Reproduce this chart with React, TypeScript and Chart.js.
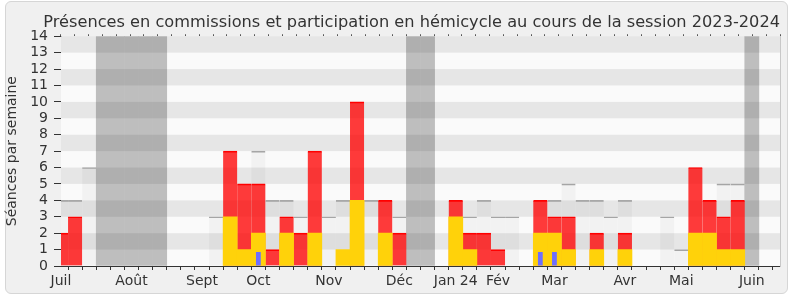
import React, { useEffect, useRef } from 'react';
import { Chart, registerables } from 'chart.js';

Chart.register(...registerables);

// ---- data (weekly, session 2023-2024) ----
const WEEK_COUNT = 52;
const monthWeeks = [0, 5, 10, 14, 19, 24, 28, 31, 35, 40, 44, 49];
const monthNames = ['Juil', 'Août', 'Sept', 'Oct', 'Nov', 'Déc', 'Jan 24', 'Fév', 'Mar', 'Avr', 'Mai', 'Juin'];
const vacationWeeks = [3, 4, 5, 6, 7, 25, 26, 49];

// total presences (hémicycle, red)
const hemicycle = [
  2, 3, 0, 0, 0, 0, 0, 0, 0, 0, 0, 0,
  7, 5, 5, 1, 3, 2, 7, 0, 0, 10, 0, 4,
  2, 0, 0, 0, 4, 2, 2, 1, 0, 0, 4, 3,
  3, 0, 2, 0, 2, 0, 0, 0, 0, 6, 4, 3,
  4, 0, 0, 0,
];
// commission presences (yellow)
const commission = [
  0, 0, 0, 0, 0, 0, 0, 0, 0, 0, 0, 0,
  3, 1, 2, 0, 2, 0, 2, 0, 1, 4, 0, 2,
  0, 0, 0, 0, 3, 1, 0, 0, 0, 0, 2, 2,
  1, 0, 1, 0, 1, 0, 0, 0, 0, 2, 2, 1,
  1, 0, 0, 0,
];
// interventions (blue)
const interventions = [
  0, 0, 0, 0, 0, 0, 0, 0, 0, 0, 0, 0,
  0, 0, 0.85, 0, 0, 0, 0, 0, 0, 0, 0, 0,
  0, 0, 0, 0, 0, 0, 0, 0, 0, 0, 0.85, 0.85,
  0, 0, 0, 0, 0, 0, 0, 0, 0, 0, 0, 0,
  0, 0, 0, 0,
];
// median of deputies (grey)
const median = [
  4, 4, 6, 0, 0, 0, 0, 0, 0, 0, 0, 3,
  0, 0, 7, 4, 4, 3, 0, 3, 4, 0, 4, 0,
  3, 0, 0, 0, 0, 3, 4, 3, 3, 0, 0, 4,
  5, 4, 4, 3, 4, 0, 0, 3, 1, 0, 0, 5,
  5, 0, 0, 0,
];
const Y_MAX = 14;
const TITLE = 'Présences en commissions et participation en hémicycle au cours de la session 2023-2024';
const Y_TITLE = 'Séances par semaine';

const TEXT = '#333333';
const AXIS = '#333333';
const PLOT_BG = '#fafafa';
const STRIPE = 'rgba(0,0,0,0.08)';
const MEDIAN_INDEX = 1;

export default function App() {
  const ref = useRef<HTMLCanvasElement>(null);

  useEffect(() => {
    const canvas = ref.current;
    if (!canvas) return;
    Chart.defaults.font.family = "'DejaVu Sans'";
    const weeks = Array.from({ length: WEEK_COUNT }, (_, i) => i);
    const pts = (arr: number[]) => weeks.map((i) => ({ x: i, y: arr[i] ? arr[i] : null }));
    const vac = weeks.map((i) => ({ x: i, y: vacationWeeks.includes(i) ? Y_MAX : null }));

    const bands = {
      id: 'bands',
      beforeDatasetsDraw(chart: any) {
        const { ctx, chartArea: a } = chart;
        ctx.save();
        ctx.fillStyle = PLOT_BG;
        ctx.fillRect(a.left, a.top, a.width, a.height);
        ctx.restore();
      },
      beforeDatasetDraw(chart: any, args: any) {
        if (args.index !== MEDIAN_INDEX) return;
        const { ctx, chartArea: a } = chart;
        const ys = chart.scales.y;
        ctx.save();
        ctx.fillStyle = STRIPE;
        for (let k = 1; k < Y_MAX; k += 2) {
          const t = ys.getPixelForValue(k + 1);
          const b = ys.getPixelForValue(k);
          ctx.fillRect(a.left, t, a.width, b - t);
        }
        ctx.restore();
      },
    };

    const common = { barPercentage: 1, categoryPercentage: 1, grouped: false, borderSkipped: false };

    const chart = new Chart(canvas, {
      type: 'bar',
      data: {
        datasets: [
          { ...common, label: 'Vacances', data: vac, backgroundColor: '#bebebe', order: 6 },
          {
            ...common, label: 'Médiane', data: pts(median), backgroundColor: 'rgba(0,0,0,0.03)',
            borderColor: '#a8a8a8', borderWidth: { top: 1, left: 0, right: 0, bottom: 0 }, order: 5,
          },
          {
            ...common, label: 'Hémicycle', data: pts(hemicycle), backgroundColor: 'rgba(255,0,0,0.77)',
            borderColor: '#ff0000', borderWidth: { top: 1, left: 0, right: 0, bottom: 0 }, order: 4,
          },
          { ...common, label: 'Commission', data: pts(commission), backgroundColor: 'rgb(255,210,10)', order: 3 },
          {
            label: 'Interventions', data: pts(interventions), backgroundColor: 'rgb(110,110,255)',
            barPercentage: 0.34, categoryPercentage: 1, grouped: false, order: 2,
          },
        ] as any,
      },
      options: {
        animation: false,
        responsive: false,
        maintainAspectRatio: false,
        layout: { padding: { left: 0, right: 10, top: 0, bottom: 0 } },
        plugins: {
          legend: { display: false },
          tooltip: { enabled: false },
          title: {
            display: true,
            text: TITLE,
            align: 'end',
            color: TEXT,
            font: { size: 16.2, weight: 'normal' },
            padding: { top: 12.9, bottom: 0.9 },
          },
        },
        scales: {
          x: {
            type: 'linear',
            position: 'bottom',
            min: 0,
            max: WEEK_COUNT - 1,
            offset: false,
            ticks: {
              stepSize: 1,
              autoSkip: false,
              maxRotation: 0,
              minRotation: 0,
              padding: 3,
              color: TEXT,
              font: { size: 14 },
              callback: (v: any) => {
                const i = monthWeeks.indexOf(Number(v));
                return i >= 0 ? monthNames[i] : '';
              },
            },
            grid: { drawOnChartArea: false, tickLength: 4, color: AXIS },
            border: { color: AXIS },
            afterFit: (s: any) => { s.height = 34; },
          },
          xTop: {
            type: 'linear',
            position: 'top',
            min: 0,
            max: WEEK_COUNT - 1,
            ticks: { stepSize: 1, autoSkip: false, display: false },
            grid: { drawOnChartArea: false, tickLength: 2, color: '#555555' },
            border: { display: false },
            afterFit: (s: any) => { s.height = 3; },
          },
          y: {
            type: 'linear',
            position: 'left',
            min: 0,
            max: Y_MAX,
            ticks: { stepSize: 1, autoSkip: false, padding: 6, color: TEXT, font: { size: 14 } },
            grid: { drawOnChartArea: false, tickLength: 7, color: AXIS },
            border: { color: AXIS },
            title: { display: true, text: Y_TITLE, color: TEXT, font: { size: 14 }, padding: { top: 4, bottom: 0 } },
            afterFit: (s: any) => { s.width = 61; },
          },
          yR: {
            type: 'linear',
            position: 'right',
            min: 0,
            max: Y_MAX,
            ticks: { display: false },
            grid: { drawOnChartArea: false, drawTicks: false },
            border: { color: '#c8c8c8' },
            afterFit: (s: any) => { s.width = 0; },
          },
        },
      } as any,
      plugins: [bands],
    });
    return () => chart.destroy();
  }, []);

  return (
    <div style={{ position: 'absolute', left: 0, top: 0, width: 790, height: 300, background: '#ffffff' }}>
      <div
        style={{
          position: 'absolute', left: 5, top: 1, width: 783, height: 293, boxSizing: 'border-box',
          background: '#f0f0f0', border: '1px solid #d6d6d6', borderRadius: 6,
        }}
      />
      <canvas ref={ref} width={790} height={300} style={{ position: 'absolute', left: 0, top: 0, width: 790, height: 300 }} />
    </div>
  );
}
